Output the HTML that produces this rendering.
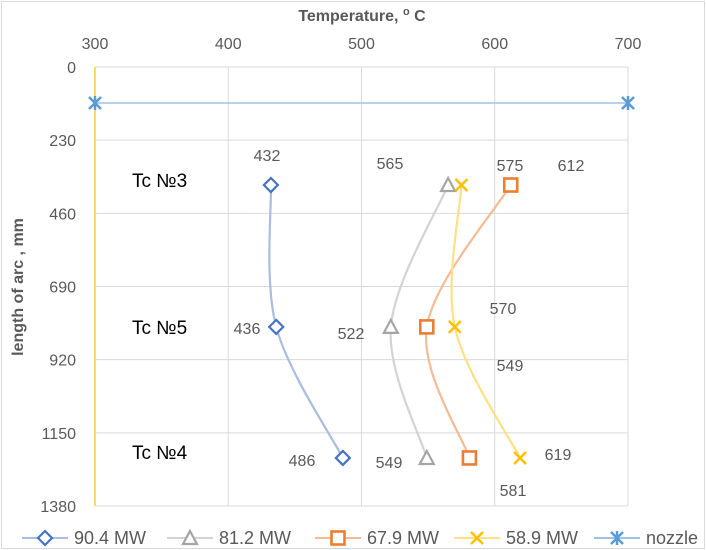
<!DOCTYPE html>
<html><head><meta charset="utf-8"><style>
body{margin:0;background:#fff}
svg{display:block;font-family:"Liberation Sans",sans-serif}
</style></head><body>
<svg id="c" width="706" height="550">
<rect x="1.5" y="1.5" width="703" height="547" fill="#fff" stroke="#d9d9d9"/>
</svg>
<script>
const xTicks=[300,400,500,600,700];
const yTicks=[0,230,460,690,920,1150,1380];
const seriesNames=["90.4 MW","81.2 MW","67.9 MW","58.9 MW","nozzle"];
const depths=[371,817,1229];
const temps904=[432,436,486];
const temps812=[565,522,549];
const temps679=[612,549,581];
const temps589=[575,570,619];
const nozzleTemps=[300,700];
const nozzleDepth=113;
const tcLabels=["Tc №3","Tc №5","Tc №4"];

const NS="http://www.w3.org/2000/svg",svg=document.getElementById('c');
const L=95,R=628,T=67,B=506;
const X=v=>L+(v-300)/400*(R-L), Y=v=>T+v/1380*(B-T);
function el(t,a,txt){const e=document.createElementNS(NS,t);for(const k in a)e.setAttribute(k,a[k]);if(txt!=null)e.textContent=txt;svg.appendChild(e);return e;}
xTicks.forEach(v=>{
  const g=el('line',{x1:X(v),x2:X(v),y1:T,y2:B,stroke:'#d9d9d9'});
  
  const t=el('text',{x:X(v),y:49,'text-anchor':'middle','font-size':16,fill:'#595959'},v);
  
});
yTicks.forEach(v=>{
  const g=el('line',{x1:L,x2:R,y1:Y(v),y2:Y(v),stroke:'#d9d9d9'});
  
  const t=el('text',{x:76,y:Y(v)+6,'text-anchor':'end','font-size':16,fill:'#595959'},v);
  
});
const ya=el('line',{x1:L,x2:L,y1:T,y2:B,stroke:'#ffd966','stroke-width':2});

const xt=el('text',{x:362,y:21,'text-anchor':'middle','font-size':16,'font-weight':'bold',fill:'#595959'});
xt.innerHTML='Temperature, <tspan dy="-6" font-size="11">o</tspan><tspan dy="6"> C</tspan>';

const yt=el('text',{x:0,y:0,'text-anchor':'middle','font-size':16,'font-weight':'bold',fill:'#595959',transform:'translate(23,287) rotate(-90)'},'length of arc , mm');


function smooth(p){let d=`M${p[0][0]},${p[0][1]}`;for(let i=0;i<p.length-1;i++){const p0=p[i-1]||p[i],p1=p[i],p2=p[i+1],p3=p[i+2]||p2;
d+=` C${p1[0]+(p2[0]-p0[0])/6},${p1[1]+(p2[1]-p0[1])/6} ${p2[0]-(p3[0]-p1[0])/6},${p2[1]-(p3[1]-p1[1])/6} ${p2[0]},${p2[1]}`;}return d;}
function marker(type,x,y,c){
  let m;
  if(type==='d')m=el('path',{d:`M${x},${y-7}L${x+7},${y}L${x},${y+7}L${x-7},${y}Z`,fill:'#fff',stroke:c,'stroke-width':2.2});
  else if(type==='t')m=el('path',{d:`M${x},${y-7}L${x+7},${y+6}L${x-7},${y+6}Z`,fill:'#fff',stroke:c,'stroke-width':2.2});
  else if(type==='s')m=el('rect',{x:x-6.5,y:y-6.5,width:13,height:13,fill:'#fff',stroke:c,'stroke-width':2.6});
  else if(type==='x')m=el('path',{d:`M${x-6},${y-6}L${x+6},${y+6}M${x+6},${y-6}L${x-6},${y+6}`,stroke:c,'stroke-width':2.5});
  else m=el('path',{d:`M${x-6},${y-6}L${x+6},${y+6}M${x+6},${y-6}L${x-6},${y+6}M${x},${y-7}L${x},${y+7}`,stroke:c,'stroke-width':2.5});
  return m;
}
const cols=['#4472c4','#a5a5a5','#ed7d31','#ffc000','#5b9bd5'];
const lcols=['#a9bde0','#d3d3d3','#f4bb94','#ffe084','#9fc3e6'];
const types=['d','t','s','x','a'];
[temps904,temps812,temps679,temps589].forEach((s,i)=>{
  const pts=s.map((v,j)=>[X(v),Y(depths[j])]);
  const p=el('path',{d:smooth(pts),fill:'none',stroke:lcols[i],'stroke-width':2.2});
  
  pts.forEach(q=>{const m=marker(types[i],q[0],q[1],cols[i]);});
});
const nl=el('line',{x1:X(nozzleTemps[0]),x2:X(nozzleTemps[1]),y1:Y(nozzleDepth),y2:Y(nozzleDepth),stroke:lcols[4],'stroke-width':1.5});

nozzleTemps.forEach(v=>{const m=marker('a',X(v),Y(nozzleDepth),cols[4]);});

const labPos=[[[267,155],[247,328],[302,460]],[[390,163],[351,333],[389,462]],[[571,165],[510,365],[513,490]],[[510,165],[503,308],[558,454]]];
[temps904,temps812,temps679,temps589].forEach((s,i)=>s.forEach((v,j)=>{
  const dx=labPos[i][j][0]-X(v),dy=labPos[i][j][1]-Y(depths[j]);
  const t=el('text',{x:X(v)+dx,y:Y(depths[j])+dy+6,'text-anchor':'middle','font-size':16,fill:'#595959'},v);
  
}));
const tcY=[187,334,459];
tcLabels.forEach((s,j)=>{
  const t=el('text',{x:132,y:tcY[j],'font-size':19,fill:'#000'},s);
  
});
// legend
const mx=[45,190,338,477,617];
seriesNames.forEach((n,i)=>{
  const g=el('g',{});
  const ln=el('line',{x1:mx[i]-23,x2:mx[i]+23,y1:538,y2:538,stroke:lcols[i],'stroke-width':2});g.appendChild(ln);
  g.appendChild(marker(types[i],mx[i],538,cols[i]));
  const t=el('text',{x:mx[i]+29,y:544,'font-size':18,fill:'#595959'},n);g.appendChild(t);
});
</script>
</body></html>
